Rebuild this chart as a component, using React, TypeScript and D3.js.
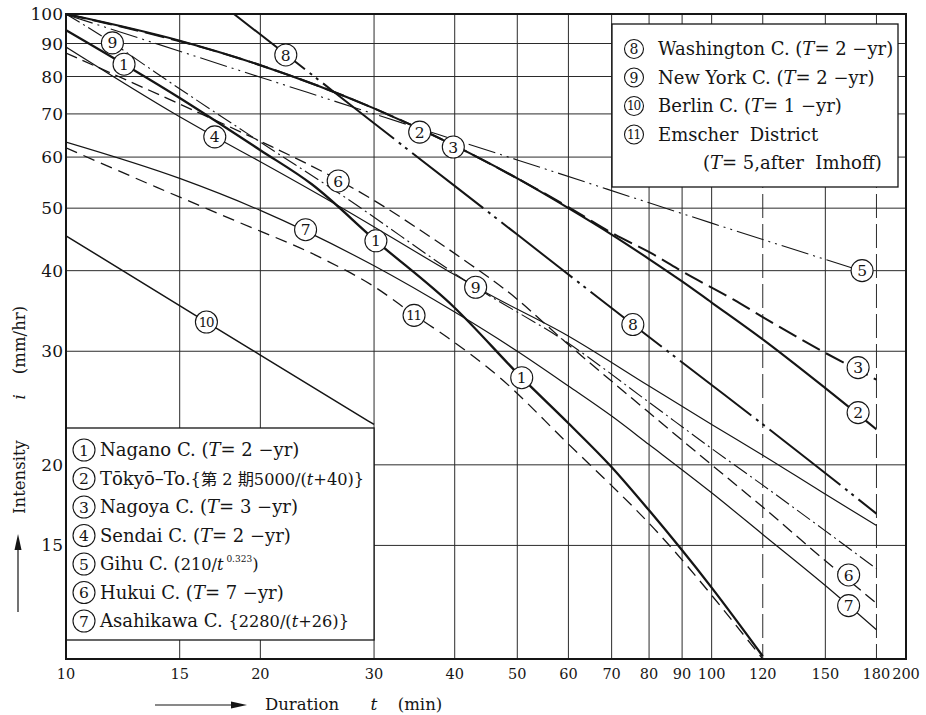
import { useEffect, useRef } from "react";
import * as d3 from "d3";

// durations t (min) and intensities i (mm/hr)
// 1 Nagano C.
const naganoT = [10, 15, 20, 24, 30.2, 39.8, 50.8, 60, 69.8, 80, 100, 120];
const naganoI = [94.4, 74.1, 61.5, 54.5, 44.5, 35.2, 27.3, 23.2, 19.9, 17.0, 12.9, 10.1];
// 2 Tokyo-To
const tokyoT = [10, 15, 20, 30, 40, 50, 60, 70, 80, 90, 100, 120, 150, 180];
const tokyoI = [100, 90.9, 83.3, 71.4, 62.5, 55.6, 50, 45.5, 41.7, 38.5, 35.7, 31.3, 26.3, 22.7];
// 3 Nagoya C.
const nagoyaT = [10, 20, 30, 40, 50, 60, 70, 82.6, 89.6, 108, 120, 147.5, 180];
const nagoyaI = [100, 83.3, 71.4, 62.5, 55.6, 50.2, 45.8, 42.0, 40.0, 36.1, 33.9, 30.1, 27.1];
// 4 Sendai C.
const sendaiT = [10, 15, 17, 20, 26.8, 39, 44.9, 59.6, 80, 100, 120, 147.5, 180];
const sendaiI = [88.9, 69.3, 64.5, 59.0, 50.0, 40.0, 36.9, 31.8, 26.5, 23.1, 20.7, 18.2, 16.1];
// 5 Gihu C.
const gihuT = [10, 20, 30, 50, 100, 170];
const gihuI = [99.8, 79.8, 70.0, 59.4, 47.4, 40.0];
// 6 Hukui C.
const hukuiT = [10, 15, 20, 26.4, 29.9, 36.7, 42.3, 48.2, 59.6, 80, 100, 120, 150, 180];
const hukuiI = [87.0, 72.5, 63.5, 55.3, 51.5, 45.1, 40.9, 37.2, 30.9, 24.1, 20.0, 17.2, 14.2, 12.2];
// 7 Asahikawa C.
const asahiT = [10, 15, 20, 30, 40, 50, 60, 70, 80, 100, 120, 150, 180];
const asahiI = [63.3, 55.6, 49.6, 40.7, 34.5, 30.0, 26.5, 23.8, 21.5, 18.1, 15.6, 13.0, 11.1];
// 8 Washington C.
const washT = [18.2, 21.9, 30, 50, 75.5, 100, 140, 180];
const washI = [100, 86.6, 67.7, 45.5, 33.0, 26.6, 20.5, 16.8];
// 9 New York C.
const nyT = [10, 11.8, 13.8, 20, 26.8, 43.1, 59.6, 80, 100, 120, 150, 180];
const nyI = [100, 90.2, 81.0, 63.3, 52.3, 37.7, 31.0, 25.0, 21.2, 18.6, 15.8, 13.8];
// 10 Berlin C.
const berlinT = [10, 16.5, 20, 30];
const berlinI = [45.3, 33.3, 29.6, 23.1];
// 11 Emscher District
const emscherT = [10, 13.8, 18.2, 24.8, 30, 34.7, 39, 47, 59, 83.5, 120];
const emscherI = [62.0, 53.9, 47.9, 41.9, 37.8, 34.1, 31.5, 27.3, 21.9, 15.5, 10.0];

// circled numbers placed on the curves
const markNo = ["1", "1", "1", "2", "3", "4", "5", "6", "6", "7", "7", "8", "8", "9", "9", "10", "11", "2", "3"];
const markT = [12.3, 30.2, 50.8, 35.3, 39.8, 17.0, 171, 26.4, 163, 23.5, 163, 21.9, 75.5, 11.8, 43.1, 16.5, 34.6, 168.6, 168.6];
const markI = [83.6, 44.5, 27.3, 65.6, 62.2, 64.5, 40.0, 55.1, 13.5, 46.3, 12.1, 86.4, 33.0, 90.2, 37.7, 33.3, 34.1, 24.1, 28.3];

// axes
const xTicks = [10, 15, 20, 30, 40, 50, 60, 70, 80, 90, 100, 120, 150, 180, 200];
const yTicks = [100, 90, 80, 70, 60, 50, 40, 30, 20, 15];
const gridT = [15, 20, 30, 40, 50, 60, 70, 80, 90, 100, 120, 150, 180];
const dashedT = [120, 180];
const gridI = [90, 80, 70, 60, 50, 40, 30, 20, 15];

// legend text: [text, flags] (i = italic, s = smaller, u = superscript)
const legendLeft = [
  [["Nagano C. ("], ["T", "i"], ["= 2 −yr)"]],
  [["Tōkyō–To."], ["{第 2 期5000/(", "s"], ["t", "is"], ["+40)}", "s"]],
  [["Nagoya C. ("], ["T", "i"], ["= 3 −yr)"]],
  [["Sendai C. ("], ["T", "i"], ["= 2 −yr)"]],
  [["Gihu C. ("], ["210/", "s"], ["t", "is"], [" 0.323", "u"], [")", "s"]],
  [["Hukui C. ("], ["T", "i"], ["= 7 −yr)"]],
  [["Asahikawa C. "], ["{2280/(", "s"], ["t", "is"], ["+26)}", "s"]],
];
const legendRight = [
  [["Washington C. ("], ["T", "i"], ["= 2 −yr)"]],
  [["New York C. ("], ["T", "i"], ["= 2 −yr)"]],
  [["Berlin C. ("], ["T", "i"], ["= 1 −yr)"]],
  [["Emscher  District"]],
];
const legendRightExtra = [["("], ["T", "i"], ["= 5,after  Imhoff)"]];

const curves = [
  { id: 1, t: naganoT, i: naganoI },
  { id: 2, t: tokyoT, i: tokyoI },
  { id: 3, t: nagoyaT, i: nagoyaI },
  { id: 4, t: sendaiT, i: sendaiI },
  { id: 5, t: gihuT, i: gihuI },
  { id: 6, t: hukuiT, i: hukuiI },
  { id: 7, t: asahiT, i: asahiI },
  { id: 8, t: washT, i: washI },
  { id: 9, t: nyT, i: nyI },
  { id: 10, t: berlinT, i: berlinI },
  { id: 11, t: emscherT, i: emscherI },
];

const curveStyle: Record<number, { w: number; dash: string | null }> = {
  1: { w: 2.3, dash: null },
  2: { w: 2.1, dash: null },
  3: { w: 2, dash: "20,7" },
  4: { w: 1.2, dash: null },
  5: { w: 1.1, dash: "28,5,2,5,2,5" },
  6: { w: 1.3, dash: "12,6" },
  7: { w: 1.2, dash: null },
  8: { w: 2, dash: "90,6,3,5,3,6" },
  9: { w: 1.1, dash: "16,4,2,4" },
  10: { w: 1.5, dash: null },
  11: { w: 1.3, dash: "12,7" },
};

const W = 926;
const H = 715;
const FONT = "'DejaVu Serif', 'Noto Sans CJK JP', serif";
const INK = "#151515";

function addRich(text: any, parts: string[][], size: number) {
  let raised = false;
  parts.forEach(([s, f = ""]) => {
    const ts = text.append("tspan").text(s);
    if (f.includes("i")) ts.attr("font-style", "italic");
    if (f.includes("s")) ts.attr("font-size", size * 0.9);
    if (f.includes("u")) {
      ts.attr("font-size", size * 0.5).attr("dy", -8);
      raised = true;
    } else if (raised) {
      ts.attr("dy", 8);
      raised = false;
    }
  });
}

function circled(g: any, cx: number, cy: number, r: number, label: string, size: number) {
  g.append("circle")
    .attr("cx", cx)
    .attr("cy", cy)
    .attr("r", r)
    .attr("fill", "#fff")
    .attr("stroke", INK)
    .attr("stroke-width", 1.1);
  const two = label.length > 1;
  g.append("text")
    .attr("x", cx - (two ? 0.5 : 0))
    .attr("y", cy + (two ? size * 0.86 : size) * 0.36)
    .attr("text-anchor", "middle")
    .attr("font-size", two ? size * 0.86 : size)
    .attr("letter-spacing", two ? -1.2 : 0)
    .attr("fill", INK)
    .text(label);
}

function App() {
  const ref = useRef<SVGSVGElement>(null);

  useEffect(() => {
    const svg = d3.select(ref.current);
    svg.selectAll("*").remove();

    const x = d3.scaleLog().domain([10, 200]).range([66, 906]);
    const y = d3.scaleLog().domain([10, 100]).range([659, 14]);
    const [xl, xr] = x.range();
    const [yb, yt] = y.range();

    svg.append("rect").attr("width", W).attr("height", H).attr("fill", "#fff");

    svg
      .append("defs")
      .append("clipPath")
      .attr("id", "plotArea")
      .append("rect")
      .attr("x", xl)
      .attr("y", yt)
      .attr("width", xr - xl)
      .attr("height", yb - yt);

    // grid
    const grid = svg.append("g").attr("stroke", "#2b2b2b").attr("stroke-width", 1);
    gridT.forEach((v) => {
      grid
        .append("line")
        .attr("x1", x(v))
        .attr("x2", x(v))
        .attr("y1", yt)
        .attr("y2", yb)
        .attr("stroke-dasharray", dashedT.includes(v) ? "24,6" : null);
    });
    gridI.forEach((v) => {
      grid.append("line").attr("x1", xl).attr("x2", xr).attr("y1", y(v)).attr("y2", y(v));
    });

    // curves
    const line = d3
      .line<[number, number]>()
      .x((d) => x(d[0]))
      .y((d) => y(d[1]))
      .curve(d3.curveMonotoneX);
    const plot = svg.append("g").attr("clip-path", "url(#plotArea)");
    curves.forEach((c) => {
      const st = curveStyle[c.id];
      plot
        .append("path")
        .attr("d", line(d3.zip(c.t, c.i) as [number, number][]))
        .attr("fill", "none")
        .attr("stroke", INK)
        .attr("stroke-width", st.w)
        .attr("stroke-dasharray", st.dash);
    });

    const txt = svg.append("g").attr("font-family", FONT).attr("fill", INK);

    // legend, lower left
    const l1 = txt.append("g");
    l1.append("rect")
      .attr("x", xl)
      .attr("y", 428)
      .attr("width", x(30) - xl)
      .attr("height", 212)
      .attr("fill", "#fff")
      .attr("stroke", INK)
      .attr("stroke-width", 1.3);
    legendLeft.forEach((parts, k) => {
      const cy = 450 + k * 28.5;
      circled(l1, 84, cy, 11, String(k + 1), 15.5);
      const t = l1
        .append("text")
        .attr("x", 100)
        .attr("y", cy + 6)
        .attr("font-size", 18)
        .style("white-space", "pre");
      addRich(t, parts, 18);
    });

    // legend, upper right
    const l2 = txt.append("g");
    l2.append("rect")
      .attr("x", 612)
      .attr("y", 24)
      .attr("width", 286)
      .attr("height", 163)
      .attr("fill", "#fff")
      .attr("stroke", INK)
      .attr("stroke-width", 1.3);
    legendRight.forEach((parts, k) => {
      const cy = 49 + k * 28.5;
      circled(l2, 634, cy, 9.5, String(k + 8), 14);
      const t = l2
        .append("text")
        .attr("x", 658)
        .attr("y", cy + 6)
        .attr("font-size", 18)
        .style("white-space", "pre");
      addRich(t, parts, 18);
    });
    const ex = l2
      .append("text")
      .attr("x", 703)
      .attr("y", 49 + 4 * 28.5 + 6)
      .attr("font-size", 18)
      .style("white-space", "pre");
    addRich(ex, legendRightExtra, 18);

    // frame
    svg
      .append("rect")
      .attr("x", xl)
      .attr("y", yt)
      .attr("width", xr - xl)
      .attr("height", yb - yt)
      .attr("fill", "none")
      .attr("stroke", INK)
      .attr("stroke-width", 2);

    // circled numbers on the curves
    const marks = txt.append("g");
    markNo.forEach((n, k) => {
      circled(marks, x(markT[k]), y(markI[k]), 11, n, 15.5);
    });

    // tick labels
    yTicks.forEach((v) => {
      txt
        .append("text")
        .attr("x", 63)
        .attr("y", y(v) + 6)
        .attr("text-anchor", "end")
        .attr("font-size", 17)
        .text(v);
    });
    xTicks.forEach((v) => {
      txt
        .append("text")
        .attr("x", x(v))
        .attr("y", 679)
        .attr("text-anchor", "middle")
        .attr("font-size", 14.5)
        .text(v);
    });

    // x title
    txt.append("line").attr("x1", 155).attr("x2", 236).attr("y1", 705).attr("y2", 705).attr("stroke", INK).attr("stroke-width", 1.2);
    txt.append("path").attr("d", "M231,701.5 L247,705 L231,708.5 Z").attr("fill", INK);
    txt.append("text").attr("x", 302).attr("y", 710).attr("text-anchor", "middle").attr("font-size", 16.5).text("Duration");
    txt.append("text").attr("x", 374).attr("y", 710).attr("text-anchor", "middle").attr("font-size", 17).attr("font-style", "italic").text("t");
    txt.append("text").attr("x", 420).attr("y", 710).attr("text-anchor", "middle").attr("font-size", 16.5).text("(min)");

    // y title
    txt.append("line").attr("x1", 18).attr("x2", 18).attr("y1", 612).attr("y2", 545).attr("stroke", INK).attr("stroke-width", 1.2);
    txt.append("path").attr("d", "M14.5,550 L18,534 L21.5,550 Z").attr("fill", INK);
    const yTitle = [
      { s: "Intensity", c: 477, it: false },
      { s: "i", c: 397, it: true },
      { s: "(mm/hr)", c: 340, it: false },
    ];
    yTitle.forEach((p) => {
      txt
        .append("text")
        .attr("transform", `translate(25,${p.c}) rotate(-90)`)
        .attr("text-anchor", "middle")
        .attr("font-size", p.it ? 17.5 : 16.5)
        .attr("font-style", p.it ? "italic" : null)
        .text(p.s);
    });

    return () => {
      svg.selectAll("*").remove();
    };
  }, []);

  return (
    <svg
      ref={ref}
      width={W}
      height={H}
      style={{ position: "absolute", left: 0, top: 0, display: "block" }}
    ></svg>
  );
}

export default App;
